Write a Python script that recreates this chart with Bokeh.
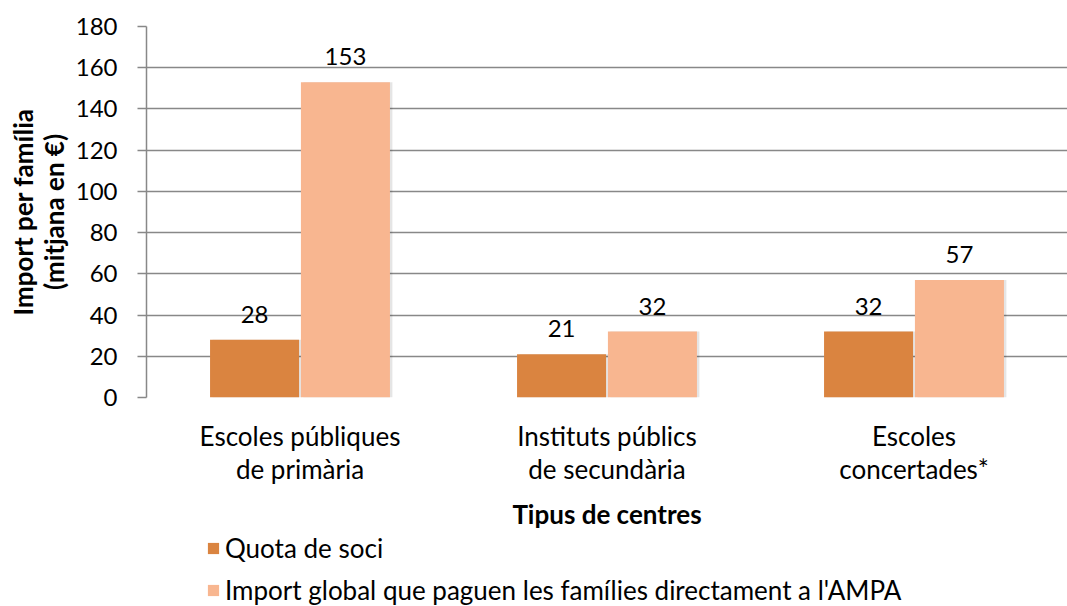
from bokeh.plotting import figure
from bokeh.layouts import column
from bokeh.models import ColumnDataSource, FactorRange, Range1d, Legend, LegendItem, SingleIntervalTicker
from bokeh.transform import dodge
from bokeh.core.properties import value
from bokeh.embed import file_html
from bokeh.resources import INLINE

categories = ["Escoles públiques\nde primària", "Instituts públics\nde secundària", "Escoles\nconcertades*"]
quota_soci = [28, 21, 32]
import_global = [153, 32, 57]
series_names = ["Quota de soci", "Import global que paguen les famílies directament a l'AMPA"]
colors = ["#DA8440", "#F8B690"]

FONT = "Lato"

src = ColumnDataSource(dict(cat=categories, q=quota_soci, g=import_global,
                            ql=[str(v) for v in quota_soci], gl=[str(v) for v in import_global]))

p = figure(x_range=FactorRange(*categories), y_range=Range1d(0, 180),
           width=1067, height=533, output_backend="svg", toolbar_location=None,
           min_border_left=146, min_border_right=0, min_border_top=26, min_border_bottom=136)
p.outline_line_color = None
p.background_fill_color = "white"
p.border_fill_color = "white"

off = 0.148
w = 0.29
sx = 0.008
# soft shadows
for col, o in [("q", -off), ("g", off)]:
    p.vbar(x=dodge("cat", o + sx, range=p.x_range), top=col, width=w, source=src,
           fill_color="#000000", fill_alpha=0.10, line_color=None)
r1 = p.vbar(x=dodge("cat", -off, range=p.x_range), top="q", width=w, source=src,
            fill_color=colors[0], line_color=None)
r2 = p.vbar(x=dodge("cat", off, range=p.x_range), top="g", width=w, source=src,
            fill_color=colors[1], line_color=None)

for col, lab, o in [("q", "ql", -off), ("g", "gl", off)]:
    p.text(x=dodge("cat", o, range=p.x_range), y=col, text=lab, source=src,
           text_align="center", text_baseline="bottom", y_offset=-17,
           text_font=value(FONT), text_font_size="24px", text_color="#000000")

# y axis
p.yaxis.ticker = SingleIntervalTicker(interval=20)
p.yaxis.minor_tick_line_color = None
p.yaxis.major_tick_in = 0
p.yaxis.major_tick_out = 9
p.yaxis.major_tick_line_color = "#888888"
p.yaxis.major_tick_line_width = 1.5
p.yaxis.axis_line_color = "#888888"
p.yaxis.axis_line_width = 1.5
p.yaxis.major_label_text_font = FONT
p.yaxis.major_label_text_font_size = "24px"
p.yaxis.major_label_text_color = "#000000"
p.yaxis.major_label_standoff = 20
p.yaxis.axis_label = "Import per família\n(mitjana en €)"
p.yaxis.axis_label_text_font = FONT
p.yaxis.axis_label_text_font_style = "bold"
p.yaxis.axis_label_text_font_size = "26px"
p.yaxis.axis_label_text_color = "#000000"
p.yaxis.axis_label_text_line_height = 0.95
p.yaxis.axis_label_standoff = 3

# x axis
p.xaxis.axis_line_color = None
p.xaxis.major_tick_line_color = None
p.xaxis.minor_tick_line_color = None
p.xaxis.major_label_text_font = FONT
p.xaxis.major_label_text_font_size = "26px"
p.xaxis.major_label_text_color = "#000000"
p.xaxis.major_label_text_line_height = 1.05
p.xaxis.major_label_standoff = 16
p.xaxis.axis_label = "Tipus de centres"
p.xaxis.axis_label_text_font = FONT
p.xaxis.axis_label_text_font_style = "bold"
p.xaxis.axis_label_text_font_size = "26px"
p.xaxis.axis_label_text_color = "#000000"
p.xaxis.axis_label_standoff = 10

p.xgrid.grid_line_color = None
p.ygrid.grid_line_color = "#888888"
p.ygrid.grid_line_width = 1.5

# legend strip below the chart
p2 = figure(width=1067, height=73, output_backend="svg", toolbar_location=None,
            x_range=Range1d(0, 1), y_range=Range1d(0, 1),
            min_border_left=0, min_border_right=0, min_border_top=0, min_border_bottom=0)
p2.outline_line_color = None
p2.axis.visible = False
p2.grid.grid_line_color = None
lr1 = p2.vbar(x=[5], top=[5], width=0.1, fill_color=colors[0], line_color=None)
lr2 = p2.vbar(x=[5], top=[5], width=0.1, fill_color=colors[1], line_color=None)

legend = Legend(items=[LegendItem(label=series_names[0], renderers=[lr1]),
                       LegendItem(label=series_names[1], renderers=[lr2])],
                orientation="vertical", location=(60, 0))
legend.border_line_color = None
legend.background_fill_alpha = 0
legend.label_text_font = FONT
legend.label_text_font_size = "26px"
legend.label_text_color = "#000000"
legend.glyph_width = 14
legend.glyph_height = 14
legend.label_standoff = 5
legend.spacing = 10
legend.padding = 0
legend.margin = 0
p2.add_layout(legend, "center")

layout = column(p, p2, spacing=0)
open("out.html", "w").write(file_html(layout, INLINE))
